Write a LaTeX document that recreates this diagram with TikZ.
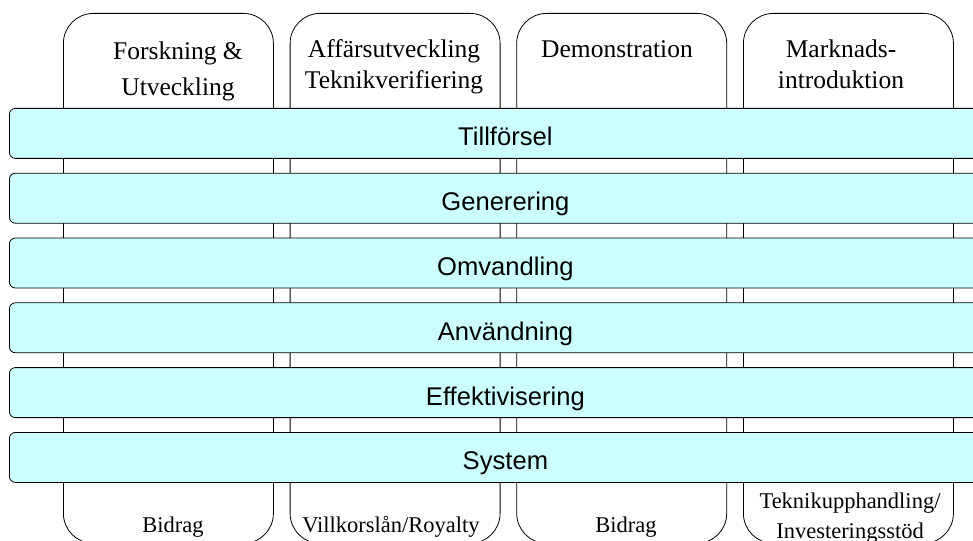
\documentclass[tikz,border=0pt]{standalone}
\usepackage{fontspec}
\setmainfont{Liberation Serif}
\setsansfont{Liberation Sans}
\definecolor{bandcyan}{HTML}{CCFFFF}
\begin{document}
\begin{tikzpicture}[x=1pt,y=-1pt,
  col/.style={draw, fill=white, rounded corners=30pt, line width=0.8pt,
    minimum width=210pt, minimum height=530pt, anchor=north west, inner sep=0pt},
  band/.style={draw, fill=bandcyan, rounded corners=6pt, line width=0.8pt,
    minimum width=992pt, minimum height=50pt, anchor=north west, inner sep=0pt,
    font=\sffamily\fontsize{25.6}{30}\selectfont, text height=25pt, text depth=0pt},
  lbl/.style={anchor=base, inner sep=0pt, font=\rmfamily\fontsize{25.5}{30}\selectfont},
  flbl/.style={anchor=base, inner sep=0pt, font=\rmfamily\fontsize{22.5}{27}\selectfont}]
\useasboundingbox (0,0) rectangle (973,540);
\clip (0,0) rectangle (973,540);
% columns
\node[col] (c1) at (63,13) {};
\node[col] (c2) at (289.7,13) {};
\node[col] (c3) at (516.3,13) {};
\node[col] (c4) at (743,13) {};
% column headings
\node[lbl] (h1a) at (178,60) {Forskning \&};
\node[lbl] (h1b) at (178,96) {Utveckling};
\node[lbl] (h2a) at (394,58) {Affärsutveckling};
\node[lbl] (h2b) at (394,89) {Teknikverifiering};
\node[lbl] (h3a) at (617,58) {Demonstration};
\node[lbl] (h4a) at (841,58) {Marknads-};
\node[lbl] (h4b) at (841,89) {introduktion};
% column footers
\node[flbl] (f1) at (173,532) {Bidrag};
\node[flbl] (f2) at (391,532) {Villkorslån/Royalty};
\node[flbl] (f3) at (626,532) {Bidrag};
\node[flbl] (f4a) at (850,508) {Teknikupphandling/};
\node[flbl] (f4b) at (850,538) {Investeringsstöd};
% bands
\node[band] (b1) at (9,108) {Tillförsel};
\node[band] (b2) at (9,172.8) {Generering};
\node[band] (b3) at (9,237.6) {Omvandling};
\node[band] (b4) at (9,302.4) {Användning};
\node[band] (b5) at (9,367.2) {Effektivisering};
\node[band] (b6) at (9,432) {System};
\end{tikzpicture}
\end{document}
